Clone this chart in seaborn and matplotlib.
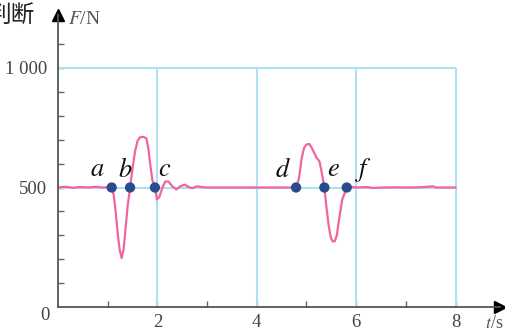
import numpy as np
import pandas as pd
import matplotlib
matplotlib.use("Agg")
import matplotlib.pyplot as plt
import seaborn as sns

# force curve (t in s, F in N)
t_vals = [0.0, 0.15, 0.3, 0.45, 0.6, 0.75, 0.9, 1.0, 1.08,
          1.12, 1.16, 1.20, 1.24, 1.28, 1.32, 1.36, 1.40, 1.45,
          1.50, 1.55, 1.60, 1.65, 1.72, 1.78, 1.82, 1.86, 1.90, 1.95,
          1.99, 2.04, 2.10, 2.16, 2.22, 2.30, 2.38, 2.46, 2.55, 2.62,
          2.70, 2.80, 2.90, 3.0, 3.5, 4.0, 4.5, 4.79,
          4.85, 4.90, 4.95, 5.00, 5.06, 5.12, 5.20, 5.26, 5.30, 5.36,
          5.40, 5.45, 5.49, 5.53, 5.57, 5.61, 5.65, 5.72, 5.81,
          5.90, 6.0, 6.2, 6.35, 6.5, 6.8, 7.0, 7.3, 7.55, 7.6, 8.0]
f_vals = [500, 503, 499, 502, 500, 503, 500, 501, 500,
          470, 400, 310, 240, 205, 240, 330, 420, 500,
          580, 650, 695, 710, 712, 705, 660, 590, 530, 500,
          450, 460, 500, 525, 525, 505, 492, 505, 512, 503,
          497, 505, 502, 500, 500, 500, 500, 500,
          540, 620, 665, 680, 682, 660, 625, 610, 570, 500,
          420, 335, 290, 274, 276, 300, 360, 450, 500,
          503, 500, 502, 498, 500, 501, 500, 501, 505, 500, 500]

point_names = ["a", "b", "c", "d", "e", "f"]
point_t = [1.08, 1.45, 1.95, 4.79, 5.36, 5.81]
point_f = [500, 500, 500, 500, 500, 500]
label_t = [0.79, 1.36, 2.15, 4.53, 5.55, 6.14]
label_f = [572, 572, 572, 572, 572, 572]

grid_t = [2, 4, 6, 8]
grid_f = [500, 1000]
x_ticks = [2, 4, 6, 8]
y_ticks = [500, 1000]
y_ticklabels = ["500", "1 000"]

curve = pd.DataFrame({"t": t_vals, "F": f_vals})
pts = pd.DataFrame({"t": point_t, "F": point_f})

sns.set_theme(style="white")
plt.rcParams["mathtext.fontset"] = "stix"
plt.rcParams["font.family"] = ["Liberation Serif", "DejaVu Sans"]

fig = plt.figure(figsize=(5.06, 3.31), dpi=100)
W, H = 506, 331
x0, y0 = 58, 307
px_t = 49.7
px_f = 0.239
xmax, ymax = 8.9, 1220
ax = fig.add_axes([x0 / W, (H - y0) / H, xmax * px_t / W, ymax * px_f / H])

grid_col = "#aee0f5"
ax.vlines(grid_t, 0, 1000, color=grid_col, lw=1.5, zorder=1)
ax.hlines(grid_f, 0, 8, color=grid_col, lw=1.5, zorder=1)

sns.lineplot(data=curve, x="t", y="F", ax=ax, color="#f064a0", lw=1.6,
             sort=False, estimator=None, zorder=2)
sns.scatterplot(data=pts, x="t", y="F", ax=ax, color="#2b4c8c", s=55,
                edgecolor="none", zorder=3)

for name, tx, fy in zip(point_names, label_t, label_f):
    ax.text(tx, fy, f"${name}$", fontsize=19, color="#111111",
            ha="center", va="center")

ax.set_xlim(0, xmax)
ax.set_ylim(0, ymax)
for s in ["top", "right"]:
    ax.spines[s].set_visible(False)
for s in ["left", "bottom"]:
    ax.spines[s].set_color("#555555")
    ax.spines[s].set_linewidth(1.3)

ax.set_xticks(x_ticks)
ax.set_xticklabels([str(v) for v in x_ticks])
ax.set_xticks([1, 3, 5, 7], minor=True)
ax.set_yticks(y_ticks)
ax.set_yticklabels(y_ticklabels)
ax.set_yticks([100, 200, 300, 400, 600, 700, 800, 900, 1100], minor=True)
ax.tick_params(which="both", direction="in", length=4, width=1,
               color="#666666", labelcolor="#444444", labelsize=13.5)
ax.tick_params(axis="x", which="both", bottom=True, pad=5)
ax.tick_params(axis="y", which="both", left=True, pad=8)
ax.set_xlabel("")
ax.set_ylabel("")

# axis arrows
ax.plot(1, 0, ">", color="black", ms=9, transform=ax.transAxes, clip_on=False)
ax.plot(0, 1, "^", color="black", ms=9, transform=ax.transAxes, clip_on=False)

fig.text(45 / W, 1 - 315 / H, "0", fontsize=13.5, color="#444444",
         ha="center", va="center")
fig.text(68 / W, 1 - 20 / H, "$F$/N", fontsize=14, color="#555555",
         ha="left", va="center")
fig.text(494 / W, 1 - 324 / H, "$t$/s", fontsize=13, color="#555555",
         ha="center", va="center")
fig.text(35 / W, 1 - 15 / H, "判断", fontsize=17, color="#222222",
         ha="right", va="center", family=["Noto Sans CJK SC", "DejaVu Sans"])

fig.savefig("out.png", dpi=100)
